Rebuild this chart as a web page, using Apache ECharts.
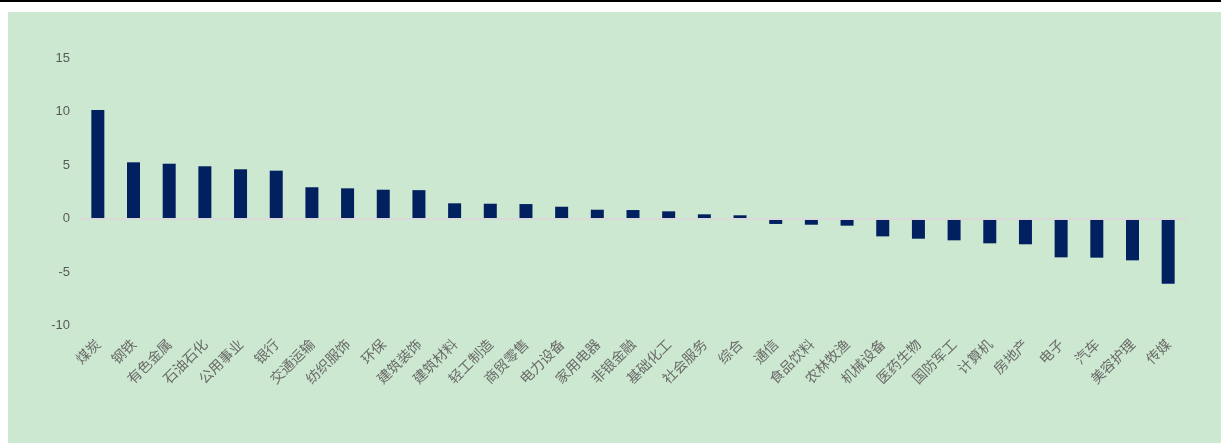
<!DOCTYPE html>
<html><head><meta charset="utf-8">
<script src="https://cdn.jsdelivr.net/npm/echarts@6/dist/echarts.min.js"></script>
<style>
html,body{margin:0;padding:0;background:#fff;width:1221px;height:443px;overflow:hidden;}
#topline{position:absolute;left:0;top:0;width:1221px;height:2px;background:#000;}
#chart{position:absolute;left:8px;top:12px;width:1213px;height:431px;}
</style></head>
<body>
<div id="topline"></div>
<div id="chart"></div>
<script>
const categories = ['煤炭','钢铁','有色金属','石油石化','公用事业','银行','交通运输','纺织服饰','环保','建筑装饰','建筑材料','轻工制造','商贸零售','电力设备','家用电器','非银金融','基础化工','社会服务','综合','通信','食品饮料','农林牧渔','机械设备','医药生物','国防军工','计算机','房地产','电子','汽车','美容护理','传媒'];
const values = [10.14,5.25,5.12,4.88,4.6,4.47,2.92,2.82,2.69,2.65,1.42,1.38,1.35,1.1,0.82,0.79,0.67,0.39,0.3,-0.51,-0.58,-0.67,-1.67,-1.89,-2.04,-2.32,-2.41,-3.63,-3.66,-3.91,-6.09];
const yTicks = {min:-10, max:15, interval:5};

const chart = echarts.init(document.getElementById('chart'));
chart.setOption({
  backgroundColor:'#cde8d0',
  animation:false,
  grid:{left:72, right:35, top:46, bottom:117.5, containLabel:false},
  xAxis:{
    type:'category', data:categories,
    axisLine:{show:true, onZero:true, lineStyle:{color:'#d9d9d9', width:2}},
    axisTick:{show:false},
    axisLabel:{rotate:45, interval:0, margin:16, color:'#6a6a6a', fontSize:14,
      fontFamily:'"Noto Sans CJK SC", sans-serif'},
    z:5
  },
  yAxis:{
    type:'value', min:yTicks.min, max:yTicks.max, interval:yTicks.interval,
    axisLine:{show:false}, axisTick:{show:false}, splitLine:{show:false},
    axisLabel:{color:'#595959', fontSize:13, margin:10, fontFamily:'Arial, "Liberation Sans", sans-serif'}
  },
  series:[{
    type:'bar', data:values, barWidth:13,
    itemStyle:{color:'#002060'}
  }]
});
</script>
</body></html>
